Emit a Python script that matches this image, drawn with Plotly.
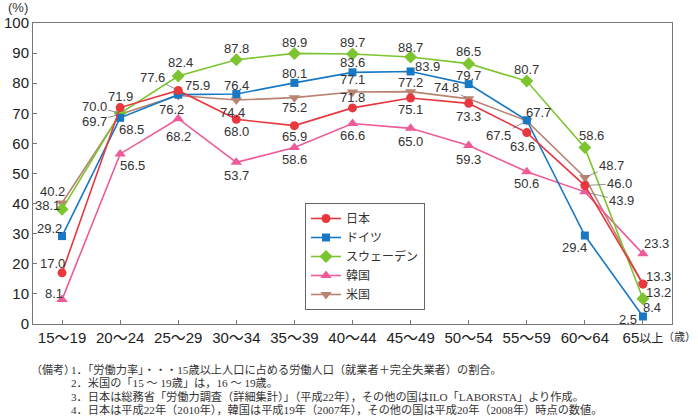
import plotly.graph_objects as go

# ---------------- data ----------------
categories = ["15～19", "20～24", "25～29", "30～34", "35～39", "40～44",
              "45～49", "50～54", "55～59", "60～64", "65以上"]
japan   = [17.0, 71.9, 77.6, 68.0, 65.9, 71.8, 75.1, 73.3, 63.6, 46.0, 13.3]
germany = [29.2, 68.5, 76.2, 76.4, 80.1, 83.6, 83.9, 79.7, 67.7, 29.4, 2.5]
sweden  = [38.1, 70.0, 82.4, 87.8, 89.9, 89.7, 88.7, 86.5, 80.7, 58.6, 8.4]
korea   = [8.1, 56.5, 68.2, 53.7, 58.6, 66.6, 65.0, 59.3, 50.6, 43.9, 23.3]
usa     = [40.2, 69.7, 75.9, 74.4, 75.2, 77.1, 77.2, 74.8, 67.5, 48.7, 13.2]
y_ticks = [0, 10, 20, 30, 40, 50, 60, 70, 80, 90, 100]

notes_head = "（備考）"
notes = [
    "1．「労働力率」・・・15歳以上人口に占める労働人口（就業者＋完全失業者）の割合。",
    "2．米国の「15 ～ 19歳」は，16 ～ 19歳。",
    "3．日本は総務省「労働力調査（詳細集計）」（平成22年），その他の国はILO「LABORSTA」より作成。",
    "4．日本は平成22年（2010年），韓国は平成19年（2007年），その他の国は平成20年（2008年）時点の数値。",
]

# ---------------- styling / label placement ----------------
W, H = 698, 417
L, R, T, B = 33, 26, 23, 93
PW, PH = W - L - R, H - T - B

def px_x(px):
    return (px - L) / PW

def px_y(py):
    return (H - B - py) / PH

series = [
    # name, values, color, symbol, size, legendrank
    ("米国", usa, "#b98371", "triangle-down", 10, 5),
    ("韓国", korea, "#ee5b98", "triangle-up", 10, 4),
    ("スウェーデン", sweden, "#7cc530", "diamond", 10, 3),
    ("ドイツ", germany, "#1878c4", "square", 8, 2),
    ("日本", japan, "#e8373f", "circle", 9, 1),
]

# (dx, dy, leader) pixel offsets of each value label
label_pos = {
    "日本": [(-10, -9, 0), (0, -11, 0), (-26, -13, 1), (0, 12, 0), (0, 11, 0), (0, -10, 0),
           (0, 12, 0), (0, 13, 0), (-4, 14, 0), (35, -2, 1), (16, -7, 0)],
    "ドイツ": [(-13, -8, 0), (11, 12, 0), (-7, 15, 0), (0, -9, 0), (0, -9, 0), (0, -10, 0),
            (17, -5, 1), (0, -9, 0), (12, -8, 0), (-10, 12, 0), (-15, 3, 0)],
    "スウェーデン": [(-15, -4, 0), (-26, -7, 1), (2, -13, 0), (0, -11, 0), (0, -11, 0), (0, -12, 0),
               (0, -10, 0), (0, -12, 0), (0, -12, 0), (7, -12, 0), (9, 9, 0)],
    "韓国": [(-8, -6, 0), (12, 12, 0), (0, 18, 0), (0, 13, 0), (0, 12, 0), (0, 12, 0),
           (0, 13, 0), (0, 14, 0), (0, 12, 0), (37, 9, 1), (14, -10, 0)],
    "米国": [(-10, -12, 0), (-26, 7, 1), (19, -10, 1), (-4, 12, 0), (0, 10, 0), (0, -12, 0),
           (0, -9, 0), (-22, -11, 1), (-28, 15, 1), (27, -12, 1), (16, 8, 0)],
}

NUM_FONT = "Liberation Sans, Arial, Noto Sans CJK JP"
CJK_FONT = "Noto Sans CJK JP"
NOTE_FONT = "Liberation Serif, Noto Sans CJK JP"

fig = go.Figure()
xs = list(range(len(categories)))

for name, vals, color, symbol, size, rank in series:
    fig.add_trace(go.Scatter(
        x=xs, y=vals, name=name, mode="lines+markers",
        line=dict(color=color, width=1.6),
        marker=dict(symbol=symbol, size=size, color=color, line=dict(width=0)),
        legendrank=rank,
    ))

annotations = []
for name, vals, color, symbol, size, rank in series:
    for i, v in enumerate(vals):
        dx, dy, leader = label_pos[name][i]
        if leader:
            annotations.append(dict(
                x=i, y=v, xref="x", yref="y", text=f"{v:.1f}",
                showarrow=True, arrowhead=0, arrowwidth=0.8, arrowcolor="#777",
                ax=dx, ay=dy, standoff=3,
                font=dict(family=NUM_FONT, size=13, color="#333"),
            ))
        else:
            annotations.append(dict(
                x=i, y=v, xref="x", yref="y", text=f"{v:.1f}",
                showarrow=False, xshift=dx, yshift=-dy,
                font=dict(family=NUM_FONT, size=13, color="#333"),
            ))

# unit labels
annotations.append(dict(x=px_x(6), y=px_y(7), xref="paper", yref="paper", text="(%)",
                        showarrow=False, xanchor="left", yanchor="middle",
                        font=dict(family=NUM_FONT, size=13, color="#333")))
annotations.append(dict(x=px_x(698), y=px_y(336), xref="paper", yref="paper", text="（歳）",
                        showarrow=False, xanchor="right", yanchor="middle",
                        font=dict(family=CJK_FONT, size=11, color="#333")))

# notes
annotations.append(dict(x=px_x(29), y=px_y(370), xref="paper", yref="paper", text=notes_head,
                        showarrow=False, xanchor="left", yanchor="middle",
                        font=dict(family=NOTE_FONT, size=11, color="#333")))
for k, line in enumerate(notes):
    annotations.append(dict(x=px_x(69), y=px_y(370 + 13 * k), xref="paper", yref="paper",
                            text=line, showarrow=False, xanchor="left", yanchor="middle",
                            font=dict(family=NOTE_FONT, size=11.2, color="#333")))

# tick text: render the CJK part of the last label slightly smaller
def fmt_tick(t):
    if "以上" in t:
        return t.replace("以上", "<span style='font-size:12px'>以上</span>")
    return t

fig.update_layout(
    width=W, height=H,
    margin=dict(l=L, r=R, t=T, b=B, pad=0),
    paper_bgcolor="white", plot_bgcolor="white",
    showlegend=True,
    legend=dict(
        x=px_x(305), y=px_y(203), xanchor="left", yanchor="top",
        bordercolor="#666", borderwidth=1, bgcolor="white",
        font=dict(family=CJK_FONT, size=12, color="#333"),
        itemwidth=30, tracegroupgap=0,
    ),
    annotations=annotations,
)

fig.update_xaxes(
    range=[-0.5, len(categories) - 0.5],
    tickmode="array", tickvals=xs, ticktext=[fmt_tick(c) for c in categories],
    ticks="inside", ticklen=4, tickcolor="#777", tickwidth=1,
    showline=True, linecolor="#777", linewidth=1, mirror=True,
    showgrid=False, zeroline=False, automargin=False,
    tickfont=dict(family=NUM_FONT, size=15, color="#222"),
)
fig.update_yaxes(
    range=[0, 100],
    tickmode="array", tickvals=y_ticks, ticktext=[str(t) for t in y_ticks],
    ticks="inside", ticklen=4, tickcolor="#777", tickwidth=1,
    showline=True, linecolor="#777", linewidth=1, mirror=True,
    showgrid=False, zeroline=False, automargin=False,
    tickfont=dict(family=NUM_FONT, size=15, color="#222"),
)

fig.write_html(
    "out.html",
    config={"displayModeBar": False},
    post_script="document.body.style.margin='0';document.body.style.padding='0';",
)
